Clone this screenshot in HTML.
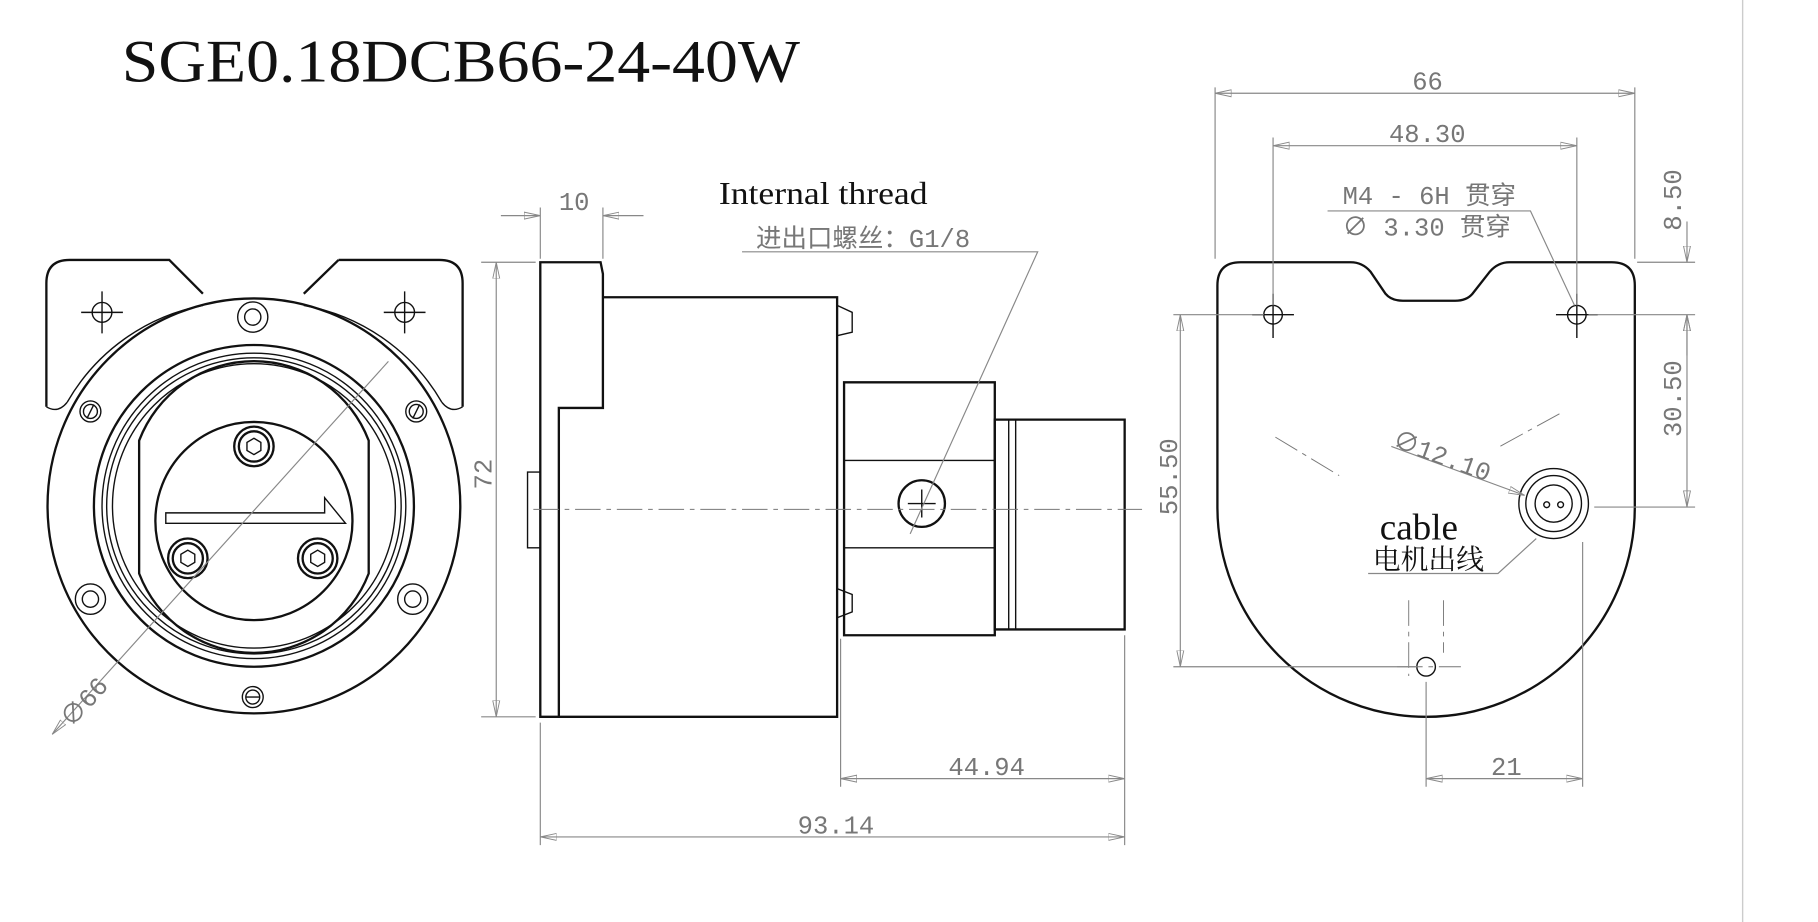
<!DOCTYPE html>
<html><head><meta charset="utf-8"><style>
html,body{margin:0;padding:0;background:#fff;width:1818px;height:922px;overflow:hidden}
svg{display:block}
.k{fill:none;stroke:#111;stroke-width:2}
.t{fill:none;stroke:#111;stroke-width:1.2}
.d{fill:none;stroke:#888;stroke-width:1}
.c{fill:none;stroke:#777;stroke-width:0.8;stroke-dasharray:22 5 4 5}
.dt{font-family:"Liberation Mono","Noto Sans CJK SC",monospace;fill:#777;font-size:22px}
</style></head><body>
<svg width="1818" height="922" viewBox="0 0 1568 791" preserveAspectRatio="none">
<defs>
<marker id="a" markerWidth="14" markerHeight="8" refX="14" refY="4" orient="auto-start-reverse" markerUnits="userSpaceOnUse"><path d="M0,1 L14,4 L0,7 Z" fill="none" stroke="#888" stroke-width="0.8"/></marker>
</defs>
<text x="105" y="70" font-family="Liberation Serif,serif" font-size="52" fill="#111" textLength="585" lengthAdjust="spacingAndGlyphs">SGE0.18DCB66-24-40W</text>

<!-- LEFT VIEW -->
<g>
<path class="k" d="M40,349 L40,243 Q40,223 60,223 L146,223 L175,252 M292,223 L262,252 M292,223 L379,223 Q399,223 399,243 L399,349"/>
<path class="t" d="M40,349 Q50,355 58,345 M399,349 Q389,355 381,345"/>
<circle class="k" cx="219" cy="434" r="178"/>
<path class="t" d="M58,345 A172,172 0 0 1 175,262 M381,345 A172,172 0 0 0 262,262"/>
<circle class="k" cx="219" cy="434" r="138"/>
<circle class="t" cx="219" cy="434" r="131"/>
<circle class="t" cx="219" cy="434" r="127"/>
<circle class="t" cx="219" cy="434" r="122"/>
<path class="k" d="M120,378 A106,106 0 0 1 318,378 L318,492 A106,106 0 0 1 120,492 Z"/>
<circle class="k" cx="219" cy="447" r="85"/>
<path class="t" d="M143,440 L280,440 L280,427 L298,449 L143,449 Z"/>
<g class="k">
<circle cx="219" cy="383" r="17"/><circle cx="219" cy="383" r="13"/>
<circle cx="162" cy="479" r="17"/><circle cx="162" cy="479" r="13"/>
<circle cx="274" cy="479" r="17"/><circle cx="274" cy="479" r="13"/>
</g>
<g class="t">
<polygon points="219,376 225,379.5 225,386.5 219,390 213,386.5 213,379.5"/>
<polygon points="162,472 168,475.5 168,482.5 162,486 156,482.5 156,475.5"/>
<polygon points="274,472 280,475.5 280,482.5 274,486 268,482.5 268,475.5"/>
<circle cx="218" cy="272" r="13"/><circle cx="218" cy="272" r="7"/>
<circle cx="78" cy="514" r="13"/><circle cx="78" cy="514" r="7"/>
<circle cx="356" cy="514" r="13"/><circle cx="356" cy="514" r="7"/>
<circle cx="78" cy="353" r="9"/><circle cx="78" cy="353" r="6"/><path d="M75,359 L81,347"/>
<circle cx="359" cy="353" r="9"/><circle cx="359" cy="353" r="6"/><path d="M356,359 L362,347"/>
<circle cx="218" cy="598" r="9"/><circle cx="218" cy="598" r="6"/><path d="M212,598 L224,598"/>
<circle cx="88" cy="268" r="8.5"/><path d="M70,268 L106,268 M88,250 L88,286"/>
<circle cx="349" cy="268" r="8.5"/><path d="M331,268 L367,268 M349,250 L349,286"/>
</g>
<path class="d" d="M45,630 L335,310" marker-start="url(#a)"/>
<text x="0" y="0" class="dt" font-family="Liberation Serif,serif" transform="translate(62,625) rotate(-48)" font-size="24">∅66</text>
</g>

<!-- MIDDLE VIEW -->
<g>
<path class="k" d="M466,225 L518,225 L520,235 L520,350 L482,350 L482,615 L466,615 Z"/>
<path class="k" d="M520,255 L722,255 L722,615 L482,615"/>
<path class="t" d="M722,262 L735,268 L735,285 L722,288 M722,505 L735,510 L735,525 L722,530 M466,405 L455,405 L455,470 L466,470"/>
<path class="k" d="M728,328 L858,328 L858,545 L728,545 Z"/>
<path class="t" d="M728,395 L858,395 M728,470 L858,470"/>
<path class="k" d="M858,360 L970,360 L970,540 L858,540 Z"/>
<path class="t" d="M870,360 L870,540 M876,360 L876,540"/>
<circle class="k" cx="795" cy="432" r="20"/>
<path class="t" d="M783,432 L807,432 M795,420 L795,444"/>
<path class="c" d="M460,437 L985,437"/>
<path class="d" d="M466,222 L466,178 M520,222 L520,178" />
<path class="d" d="M432,185 L466,185" marker-end="url(#a)"/><path class="d" d="M555,185 L520,185" marker-end="url(#a)"/>
<text x="482" y="180" class="dt">10</text>
<path class="d" d="M462,225 L415,225 M462,615 L415,615"/>
<path class="d" d="M428,225 L428,615" marker-start="url(#a)" marker-end="url(#a)"/>
<text class="dt" transform="translate(424,420) rotate(-90)" font-size="24">72</text>
<path class="d" d="M725,548 L725,675 M970,545 L970,725 M466,620 L466,725"/>
<path class="d" d="M725,668 L970,668" marker-start="url(#a)" marker-end="url(#a)"/>
<text x="818" y="665" class="dt">44.94</text>
<path class="d" d="M466,718 L970,718" marker-start="url(#a)" marker-end="url(#a)"/>
<text x="688" y="715" class="dt">93.14</text>
<text x="620" y="175" font-family="Liberation Serif,serif" font-size="27" fill="#111" textLength="180" lengthAdjust="spacingAndGlyphs">Internal thread</text>
<text x="652" y="212" class="dt">进出口螺丝：G1/8</text>
<path class="d" d="M640,216 L895,216 L785,458"/>
</g>

<!-- RIGHT VIEW -->
<g>
<path class="k" d="M1050,435 L1050,245 Q1050,225 1070,225 L1165,225 Q1175,225 1182,233 L1195,252 Q1200,258 1210,258 L1255,258 Q1265,258 1270,252 L1285,233 Q1292,225 1302,225 L1390,225 Q1410,225 1410,245 L1410,435 A180,180 0 0 1 1050,435 Z"/>
<g class="t">
<circle cx="1098" cy="270" r="8"/><path d="M1080,270 L1116,270 M1098,252 L1098,290"/>
<circle cx="1360" cy="270" r="8"/><path d="M1342,270 L1378,270 M1360,252 L1360,290"/>
<circle cx="1340" cy="432" r="30"/><circle cx="1340" cy="432" r="24"/><circle cx="1340" cy="432" r="16"/>
<circle cx="1334" cy="433" r="2.5"/><circle cx="1346" cy="433" r="2.5"/>
<circle cx="1230" cy="572" r="8"/>
</g>
<path class="c" d="M1100,375 L1155,408 M1345,355 L1290,385 M1215,515 L1215,580 M1245,515 L1245,560 M1205,572 L1260,572"/>
<path class="d" d="M1048,222 L1048,75 M1410,222 L1410,75 M1098,262 L1098,118 M1360,262 L1360,118"/>
<path class="d" d="M1048,80 L1410,80" marker-start="url(#a)" marker-end="url(#a)"/>
<text x="1218" y="77" class="dt">66</text>
<path class="d" d="M1098,125 L1360,125" marker-start="url(#a)" marker-end="url(#a)"/>
<text x="1198" y="122" class="dt">48.30</text>
<text x="1158" y="175" class="dt">M4 - 6H 贯穿</text>
<text x="1158" y="202" class="dt">∅ 3.30 贯穿</text>
<path class="d" d="M1145,181 L1320,181 L1358,262"/>
<path class="d" d="M1412,225 L1462,225 M1370,270 L1462,270 M1375,435 L1462,435"/>
<path class="d" d="M1455,190 L1455,225" marker-end="url(#a)"/><path class="d" d="M1455,305 L1455,270" marker-end="url(#a)"/>
<path class="d" d="M1455,270 L1455,435" marker-start="url(#a)" marker-end="url(#a)"/>
<text class="dt" transform="translate(1450,198) rotate(-90)">8.50</text>
<text class="dt" transform="translate(1450,375) rotate(-90)">30.50</text>
<path class="d" d="M1090,270 L1012,270 M1222,572 L1012,572"/>
<path class="d" d="M1018,270 L1018,572" marker-start="url(#a)" marker-end="url(#a)"/>
<text class="dt" transform="translate(1015,442) rotate(-90)" font-size="24">55.50</text>
<path class="d" d="M1200,383 L1315,425" marker-end="url(#a)"/>
<text class="dt" transform="translate(1200,383) rotate(20)" font-size="24">∅12.10</text>
<text x="1190" y="463" font-family="Liberation Serif,serif" font-size="32" fill="#111">cable</text>
<text x="1184" y="488" font-family="Liberation Serif,'Noto Serif CJK SC',serif" font-size="24" fill="#111">电机出线</text>
<path class="d" d="M1180,492 L1292,492 L1325,462"/>
<path class="d" d="M1230,585 L1230,675 M1365,465 L1365,675"/>
<path class="d" d="M1230,668 L1365,668" marker-start="url(#a)" marker-end="url(#a)"/>
<text x="1286" y="665" class="dt">21</text>
</g>
<line x1="1503" y1="0" x2="1503" y2="791" stroke="#ccc" stroke-width="1.2"/>
</svg>
</body></html>
